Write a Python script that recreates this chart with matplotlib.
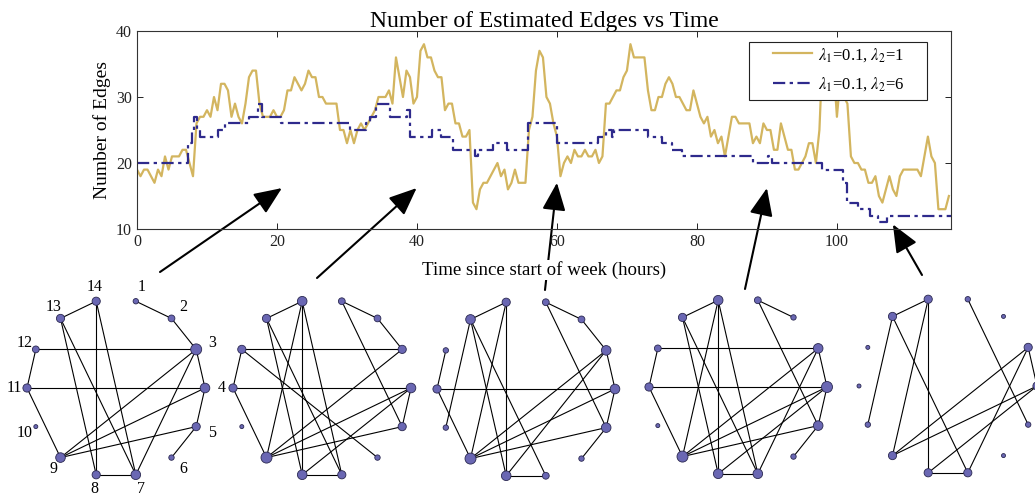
import numpy as np
import matplotlib
matplotlib.use("Agg")
import matplotlib.pyplot as plt
from matplotlib.patches import Rectangle

plt.rcParams['font.family'] = ['Liberation Serif', 'DejaVu Serif']
plt.rcParams['mathtext.fontset'] = 'stix'

# gold series (lambda2=1), sampled every half hour
gold_t = np.arange(0, 116.01, 0.5)
gold_v = [19, 18, 19, 19, 18, 17, 19, 18, 21, 19, 21, 21, 21, 22, 22, 20, 18, 26, 27, 27,
          28, 27, 30, 28, 32, 32, 31, 27, 29, 27, 26, 29, 33, 34, 34, 29, 27, 27, 27, 28,
          27, 27, 28, 31, 31, 33, 32, 31, 32, 34, 33, 33, 30, 30, 29, 29, 29, 29, 25, 25,
          23, 25, 23, 25, 26, 25, 26, 27, 28, 30, 30, 30, 31, 29, 36, 33, 30, 34, 33, 29,
          30, 37, 38, 36, 36, 34, 33, 33, 28, 29, 29, 26, 26, 24, 24, 25, 14, 13, 16, 17,
          17, 18, 19, 20, 18, 19, 16, 17, 19, 17, 17, 17, 25, 27, 34, 37, 36, 30, 29, 26,
          24, 18, 20, 21, 20, 22, 21, 21, 22, 21, 21, 22, 20, 21, 29, 29, 30, 31, 31, 33,
          34, 38, 36, 36, 36, 36, 31, 28, 28, 30, 30, 32, 33, 32, 30, 30, 29, 28, 28, 31,
          29, 27, 26, 27, 24, 25, 23, 24, 21, 24, 27, 27, 26, 26, 26, 26, 23, 24, 23, 26,
          25, 25, 22, 22, 26, 24, 22, 22, 19, 19, 20, 21, 23, 23, 20, 25, 38, 36, 33, 35,
          27, 33, 30, 29, 21, 20, 20, 19, 19, 17, 17, 18, 15, 14, 16, 18, 16, 15, 18, 19,
          19, 19, 19, 19, 18, 21, 24, 21, 20, 13, 13, 13, 15]

# navy series (lambda2=6), change points of the step curve
blue_t = [0, 7.3, 7.8, 8.2, 8.6, 9.0, 11.6, 12.6, 16.0, 17.3, 17.8, 20.6, 30.5, 32.7,
          33.3, 34.2, 36.1, 38.6, 39.0, 42.1, 43.5, 45.2, 48.3, 48.7, 50.9, 52.8, 55.9,
          60.0, 65.9, 67.0, 67.8, 68.2, 73.0, 75.0, 76.4, 77.8, 88.0, 90.2, 90.7, 97.8,
          100.9, 101.4, 103.0, 104.7, 105.9, 107.1, 116.3]
blue_v = [20, 23, 25, 27, 25, 24, 25, 26, 27, 29, 27, 26, 25, 26,
          27, 29, 27, 28, 24, 25, 24, 22, 21, 22, 23, 22, 26,
          23, 24, 25, 24, 25, 24, 23, 22, 21, 20, 21, 20, 19,
          17, 14, 13, 12, 11, 12, 12]

labels = [r'$\lambda_1$=0.1, $\lambda_2$=1', r'$\lambda_1$=0.1, $\lambda_2$=6']
gold_col = '#D3B55F'
blue_col = '#2E2A8C'

# arrows: (time, edges) they point at, and tail in figure pixels
arrow_tips = [(20.7, 16.2), (39.95, 16.2), (60.0, 17.0), (90.0, 16.2), (108.0, 10.7)]
arrow_tails = [(160, 272), (317, 278), (545, 290), (745, 289), (922, 275)]

# snapshot graphs, 14 nodes on a ring
n_nodes = 14
graph_edges = [
    [(1, 2), (2, 3), (3, 4), (4, 5), (5, 6), (3, 12), (4, 11), (11, 12), (9, 11), (13, 14),
     (8, 14), (7, 14), (8, 13), (7, 13), (7, 8), (3, 9), (4, 9), (5, 9), (3, 7)],
    [(13, 14), (9, 14), (8, 14), (7, 14), (1, 2), (2, 3), (1, 5), (3, 12), (11, 12), (6, 12),
     (4, 11), (9, 11), (8, 13), (7, 13), (3, 9), (4, 9), (4, 5), (4, 8), (5, 9), (7, 8)],
    [(13, 14), (9, 14), (8, 14), (1, 2), (2, 3), (1, 5), (3, 4), (4, 5), (5, 6), (11, 12),
     (4, 11), (9, 11), (10, 13), (8, 13), (7, 13), (3, 9), (3, 8), (4, 9), (5, 9), (7, 8)],
    [(13, 14), (9, 14), (8, 14), (7, 14), (1, 2), (1, 5), (3, 12), (11, 12), (4, 11), (9, 11),
     (8, 13), (7, 13), (3, 9), (3, 7), (3, 4), (4, 9), (4, 8), (4, 5), (5, 9), (5, 6), (7, 8)],
    [(13, 14), (9, 14), (8, 14), (1, 5), (10, 13), (7, 13), (3, 9), (3, 7), (3, 4), (4, 9),
     (4, 8), (7, 8)],
]
graph_centers = [(116, 388), (322, 388), (526, 389), (738, 387), (948, 386)]
ring_r = 89

fig = plt.figure(figsize=(10.35, 4.98), dpi=100)

# overlay in pixel units for the graphs and arrows
ov = fig.add_axes([0, 0, 1, 1], zorder=1)
ov.set_xlim(0, 1035)
ov.set_ylim(498, 0)
ov.axis('off')

ax = fig.add_axes([137 / 1035, 1 - 229 / 498, 814 / 1035, 198 / 498], zorder=2)
ax.set_facecolor('none')
ax.plot(gold_t, gold_v, color=gold_col, lw=1.6, label=labels[0])
ax.plot(blue_t, blue_v, color=blue_col, lw=1.6, ls=(0, (5.5, 2, 1.5, 2)),
        drawstyle='steps-post', label=labels[1])
ax.set_xlim(0, 116.3)
ax.set_ylim(10, 40)
ax.set_xticks([0, 20, 40, 60, 80, 100])
ax.set_yticks([10, 20, 30, 40])
ax.tick_params(direction='in', top=True, right=True, length=4, labelsize=11.5,
               width=0.7, colors='#222222')
for s in ax.spines.values():
    s.set_linewidth(0.8)
    s.set_color('#333333')
ax.set_title('Number of Estimated Edges vs Time', fontsize=17, pad=3)
ax.set_xlabel('Time since start of week (hours)', fontsize=13.6, labelpad=8,
              bbox=dict(facecolor='white', edgecolor='none', pad=1))
ax.set_ylabel('Number of Edges', fontsize=14, labelpad=4)

# legend box drawn by hand, entries placed inside it
ax.add_patch(Rectangle((0.7518, 0.6515), 0.2187, 0.2929, transform=ax.transAxes,
                       facecolor='white', edgecolor='#222222', lw=0.8, zorder=4))
ax.legend(loc='upper left', bbox_to_anchor=(0.7813, 0.925), fontsize=12, frameon=False,
          borderpad=0, borderaxespad=0, handlelength=2.35, handletextpad=0.35,
          labelspacing=0.72)

for (tx, ty), tail in zip(arrow_tips, arrow_tails):
    ov.annotate('', xy=(tx, ty), xycoords=ax.transData, xytext=tail, textcoords='data',
                arrowprops=dict(arrowstyle='-|>,head_length=0.85,head_width=0.36',
                                mutation_scale=20, lw=1.5, color='black',
                                shrinkA=0, shrinkB=0))

ang = (4 - np.arange(1, n_nodes + 1)) * 2 * np.pi / n_nodes
for gi, (edges, (cx, cy)) in enumerate(zip(graph_edges, graph_centers)):
    xs = cx + ring_r * np.cos(ang)
    ys = cy - ring_r * np.sin(ang)
    deg = np.zeros(n_nodes)
    for a, b in edges:
        ov.plot([xs[a - 1], xs[b - 1]], [ys[a - 1], ys[b - 1]], color='black', lw=0.8,
                zorder=2)
        deg[a - 1] += 1
        deg[b - 1] += 1
    diam = (4 + 1.4 * deg) * 0.72
    ov.scatter(xs, ys, s=diam ** 2, color='#6A67B3', edgecolor='#2A2850', linewidth=0.6,
               zorder=3)
    if gi == 0:
        for k in range(n_nodes):
            ov.text(cx + (ring_r + 15) * np.cos(ang[k]) + 2, cy - (ring_r + 15) * np.sin(ang[k]),
                    str(k + 1), fontsize=11.5, ha='center', va='center')

fig.savefig('out.png', dpi=100)
